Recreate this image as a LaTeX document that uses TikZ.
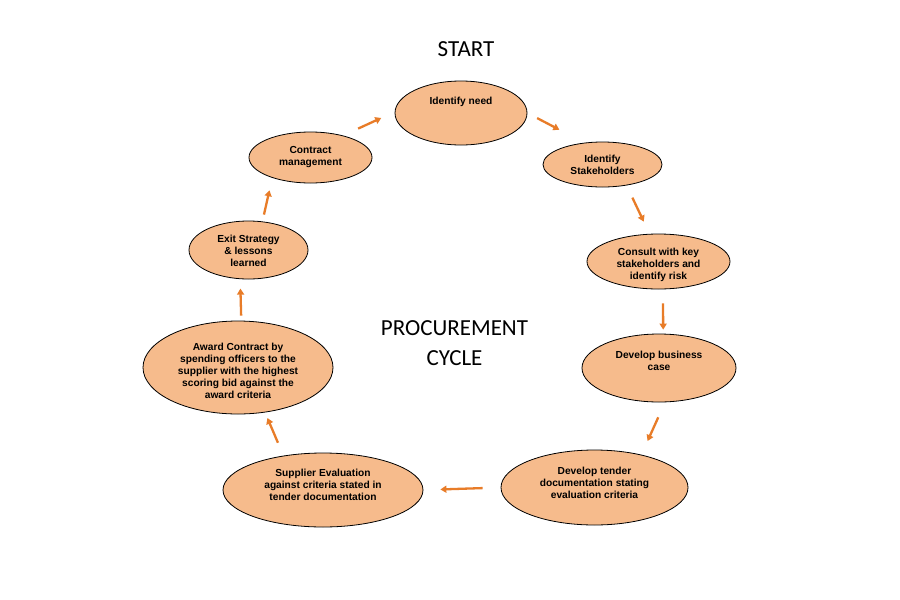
\documentclass[tikz,border=0pt]{standalone}
\usepackage{fontspec}
\setmainfont{Liberation Sans}
\newfontfamily\titlefont{Carlito}
\usepackage{tikz}
\usetikzlibrary{shapes.geometric, arrows.meta}

\definecolor{peach}{RGB}{246,187,140}
\definecolor{arrowcol}{RGB}{232,124,40}

% lines of a stage, lifted by the optional amount
\newcommand{\steptext}[2][0pt]{\raisebox{#1}[0pt][0pt]{\begin{tabular}{@{}c@{}}#2\end{tabular}}}

\tikzset{
    stage/.style={ellipse, draw=black, line width=0.8pt, fill=peach, inner sep=0pt,
        font=\fontsize{10.2}{12}\selectfont\bfseries},
    flowarrow/.style={draw=arrowcol, line width=2.3pt, -{Triangle[length=6pt,width=7pt]}},
    heading/.style={font=\titlefont\fontsize{23}{30.5}\selectfont, align=center}
}

\begin{document}
\begin{tikzpicture}[x=1pt, y=-1pt]
    \fill[white] (0,0) rectangle (900,600);

    \node[heading] (start) at (466,49.5) {START};
    \node[heading] (title) at (454.5,343) {PROCUREMENT\\CYCLE};

    % the nine stages, clockwise from the top
    \node[stage, minimum width=132pt, minimum height=64pt] (need) at (461,113) {\steptext[8pt]{Identify need}};
    \node[stage, minimum width=119pt, minimum height=45pt] (stake) at (602.5,164.5) {\steptext[-4.3pt]{Identify\\Stakeholders}};
    \node[stage, minimum width=143pt, minimum height=55pt] (consult) at (658.5,261.5) {\steptext[-5.8pt]{Consult with key\\stakeholders and\\identify risk}};
    \node[stage, minimum width=154pt, minimum height=68pt] (business) at (659,368) {\steptext[3.7pt]{Develop business\\case}};
    \node[stage, minimum width=187pt, minimum height=75pt] (tender) at (594.5,487.5) {\steptext[0.7pt]{Develop tender\\documentation stating\\evaluation criteria}};
    \node[stage, minimum width=200pt, minimum height=74pt] (supplier) at (323,490) {\steptext[1.2pt]{Supplier Evaluation\\against criteria stated in\\tender documentation}};
    \node[stage, minimum width=190pt, minimum height=93pt] (award) at (238,367.5) {\steptext[-7.3pt]{Award Contract by\\spending officers to the\\supplier with the highest\\scoring bid against the\\award criteria}};
    \node[stage, minimum width=119pt, minimum height=58pt] (exit) at (248.5,250) {\steptext[-4.8pt]{Exit Strategy\\\& lessons\\learned}};
    \node[stage, minimum width=123pt, minimum height=51pt] (contract) at (310.5,157.5) {\steptext[-2.3pt]{Contract\\management}};

    % short arrows between the stages
    \draw[flowarrow, shorten <=16.5pt, shorten >=14.7pt] (contract.34) -- (need.179);
    \draw[flowarrow, shorten <=11pt, shorten >=28pt] (need.0) -- (stake.130);
    \draw[flowarrow, shorten <=13.5pt, shorten >=13.5pt] (stake.-41) -- (consult.108);
    \draw[flowarrow, shorten <=14pt, shorten >=4pt] (consult.-81) -- (business.83);
    \draw[flowarrow, shorten <=16.5pt, shorten >=15pt] (business.-80) -- (tender.35);
    \draw[flowarrow, shorten <=18pt, shorten >=17pt] (tender.180) -- (supplier.0);
    \draw[flowarrow, shorten <=14pt, shorten >=6pt] (supplier.139) -- (award.-59);
    \draw[flowarrow, shorten <=5pt, shorten >=9.5pt] (award.86) -- (exit.-106);
    \draw[flowarrow, shorten <=7pt, shorten >=12.7pt] (exit.64) -- (contract.-152);
\end{tikzpicture}
\end{document}
